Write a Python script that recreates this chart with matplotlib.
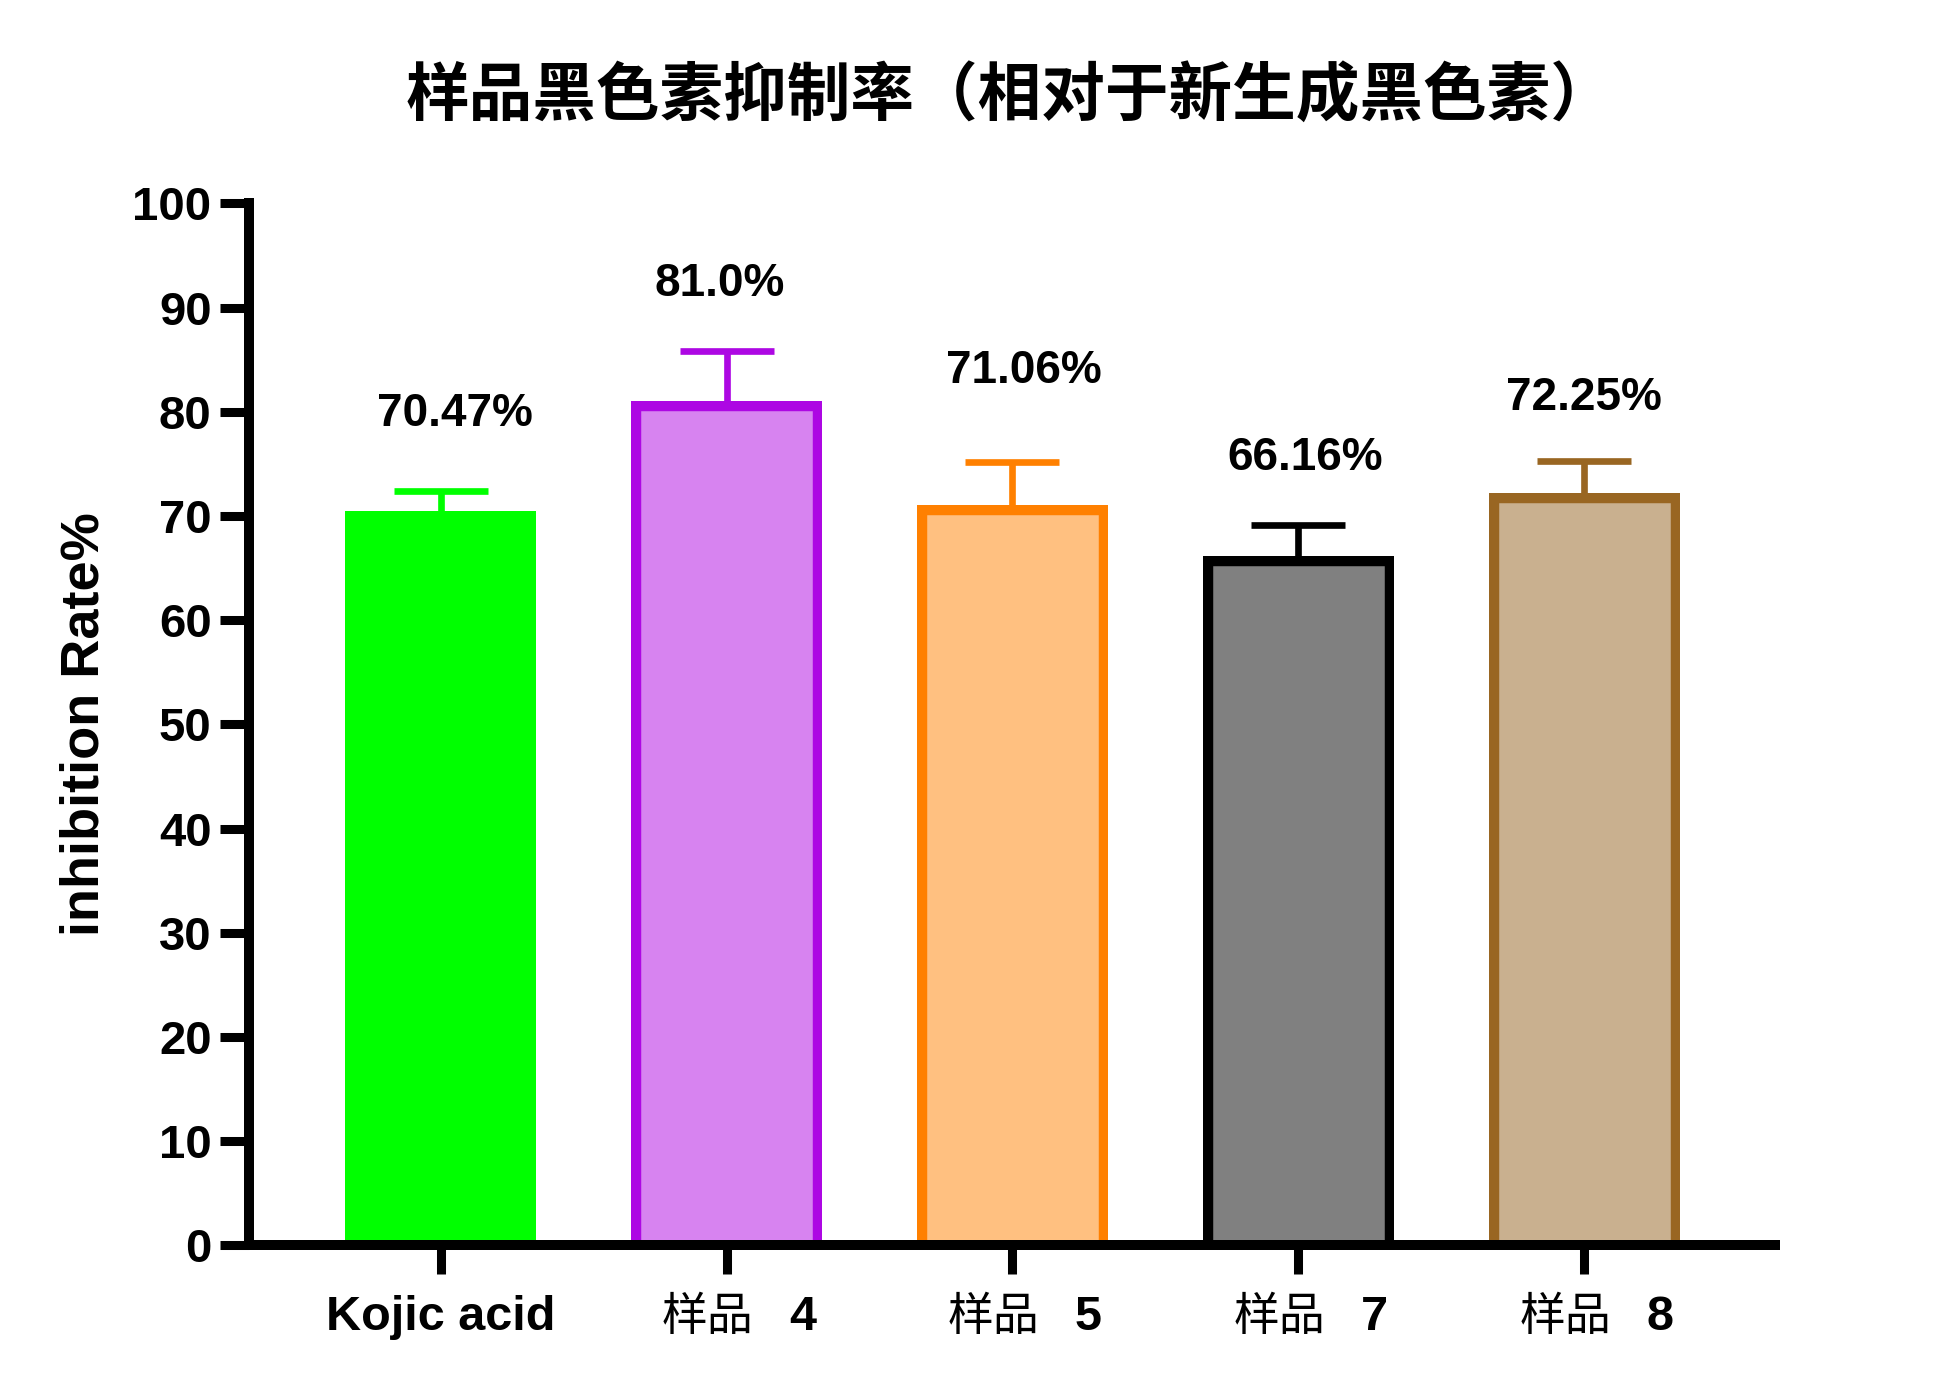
import numpy as np
import matplotlib
matplotlib.use("Agg")
import matplotlib.pyplot as plt

plt.rcParams['font.family'] = ['Liberation Sans', 'Noto Sans CJK SC']

# data
categories = ['Kojic acid', '4', '5', '7', '8']
cjk_prefix = ['', '样品', '样品', '样品', '样品']
values = [70.47, 81.0, 71.06, 66.16, 72.25]
errors = [1.95, 4.85, 4.1, 2.95, 3.0]
value_labels = ['70.47%', '81.0%', '71.06%', '66.16%', '72.25%']
label_y = [79.8, 92.3, 83.9, 75.6, 81.3]
label_dx = [0.05, -0.024, 0.041, 0.024, 0.0]
fill_colors = ['#00FF00', '#D783F0', '#FFC080', '#808080', '#C9B08F']
edge_colors = ['#00FF00', '#AD07E3', '#FF8000', '#000000', '#996622']
yticks = np.arange(0, 101, 10)

title = '样品黑色素抑制率（相对于新生成黑色素）'
ylabel = 'inhibition Rate%'


def main():
    fig = plt.figure(figsize=(19.34, 13.87), dpi=100)
    ax = fig.add_axes([0.12875, 0.10202, 0.78904, 0.7514])
    x = np.arange(len(values))

    # edges are drawn inside the bar (clip each bar to its own outline, double
    # width); bars start a little below 0 so the bottom edge is cut by the axes
    pad = 3
    bars = ax.bar(x, np.array(values) + pad, bottom=-pad, width=0.667,
                  color=fill_colors, edgecolor=edge_colors, linewidth=14,
                  zorder=2)
    for b in bars:
        b.set_clip_path(b.get_path(), b.get_transform())

    # upper-only error bars, one colour per bar
    for i in range(len(values)):
        eb = ax.errorbar(x[i], values[i], yerr=[[0], [errors[i]]], fmt='none',
                         ecolor=edge_colors[i], elinewidth=4.8, capsize=33.5,
                         capthick=4.8, zorder=1.5)
        eb[1][0].set_visible(False)

    for i in range(len(values)):
        ax.text(x[i] + label_dx[i], label_y[i], value_labels[i], ha='center',
                va='center', fontsize=33, fontweight='bold')

    ax.set_xlim(-0.67, 4.667)
    ax.set_ylim(0, 100)
    ax.set_yticks(yticks)
    ax.set_yticklabels([str(v) for v in yticks], fontsize=34, fontweight='bold')
    ax.set_xticks(x)
    ax.set_xticklabels([])
    ax.tick_params(axis='y', length=21, width=6.5, pad=6)
    ax.tick_params(axis='x', length=21, width=6.5)

    for s in ['top', 'right']:
        ax.spines[s].set_visible(False)
    for s in ['left', 'bottom']:
        ax.spines[s].set_linewidth(7.2)
        ax.spines[s].set_capstyle('projecting')
        ax.spines[s].set_zorder(3)

    # x labels: regular CJK prefix + bold number
    trans = ax.get_xaxis_transform()
    for i in range(len(x)):
        if cjk_prefix[i]:
            ax.annotate(cjk_prefix[i], xy=(x[i], 0), xycoords=trans,
                        xytext=(19.4, -60.8), textcoords='offset points',
                        ha='right', va='baseline', fontsize=33,
                        family='Noto Sans CJK SC')
            ax.annotate(categories[i], xy=(x[i], 0), xycoords=trans,
                        xytext=(45, -60.8), textcoords='offset points',
                        ha='left', va='baseline', fontsize=35, fontweight='bold')
        else:
            ax.annotate(categories[i], xy=(x[i], 0), xycoords=trans,
                        xytext=(0, -60.8), textcoords='offset points',
                        ha='center', va='baseline', fontsize=35, fontweight='bold')

    fig.text(0.522, 0.931, title, ha='center', va='center', fontsize=45.8,
             fontweight='bold', family=['Noto Sans CJK SC'])
    fig.text(0.0436, 0.478, ylabel, rotation=90, ha='center', va='center',
             fontsize=39, fontweight='bold')

    fig.savefig('out.png', dpi=100)


if __name__ == "__main__":
    main()
